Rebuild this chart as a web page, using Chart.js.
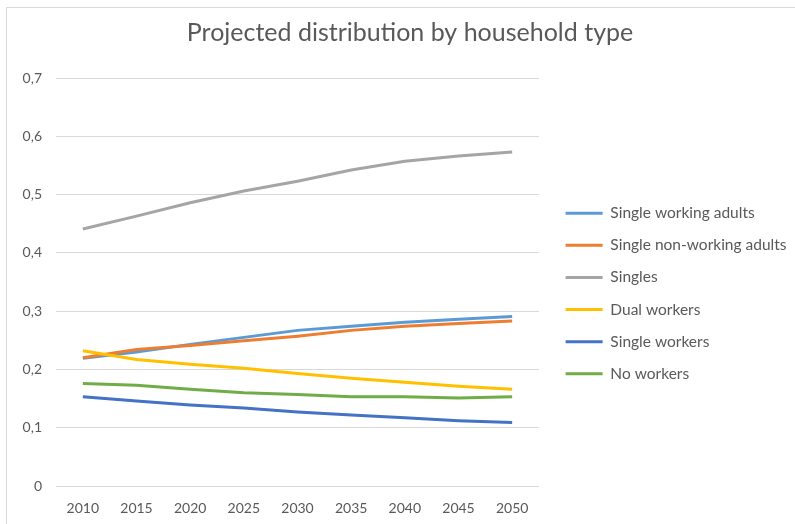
<!DOCTYPE html>
<html>
<head>
<meta charset="utf-8">
<script src="https://cdn.jsdelivr.net/npm/chart.js@4/dist/chart.umd.min.js"></script>
<style>
  html, body { margin: 0; padding: 0; background: #fff; }
  #wrap { position: absolute; left: 0; top: 0; width: 795px; height: 524px; }
</style>
</head>
<body>
<div id="wrap"><canvas id="chart"></canvas></div>
<script>
// data
const years = ["2010", "2015", "2020", "2025", "2030", "2035", "2040", "2045", "2050"];
const singleWorkingAdults = [0.219, 0.230, 0.243, 0.255, 0.267, 0.274, 0.281, 0.286, 0.291];
const singleNonWorkingAdults = [0.220, 0.234, 0.241, 0.249, 0.257, 0.267, 0.274, 0.279, 0.283];
const singles = [0.441, 0.463, 0.486, 0.506, 0.523, 0.542, 0.557, 0.566, 0.573];
const dualWorkers = [0.232, 0.217, 0.209, 0.202, 0.193, 0.185, 0.178, 0.171, 0.166];
const singleWorkers = [0.153, 0.146, 0.139, 0.134, 0.127, 0.122, 0.117, 0.112, 0.109];
const noWorkers = [0.176, 0.173, 0.166, 0.160, 0.157, 0.153, 0.153, 0.151, 0.153];
const yTicks = ["0", "0,1", "0,2", "0,3", "0,4", "0,5", "0,6", "0,7"];

const txt = "#595959";
const gridCol = "#d9d9d9";
const font = "Lato";

function serie(label, data, color, i) {
  return {
    label: label,
    data: data,
    borderColor: color,
    backgroundColor: color,
    borderWidth: 3,
    pointRadius: 0,
    tension: 0,
    order: 10 - i
  };
}

// thin frame of the chart area like excel
const frame = {
  id: "frame",
  beforeDraw(chart) {
    const c = chart.ctx;
    c.save();
    c.strokeStyle = gridCol;
    c.lineWidth = 1;
    c.strokeRect(6.5, 7.5, 2000, 2000);
    c.restore();
  }
};

// the legend gets only a narrow share by default, give it a fixed width
const legendWidth = {
  id: "legendWidth",
  beforeLayout(chart) {
    const lg = chart.legend;
    if (!lg || lg._wide) return;
    const fit = lg.fit;
    lg.fit = function () {
      fit.call(this);
      this.width = 255;
    };
    lg._wide = true;
  }
};

new Chart(document.getElementById("chart"), {
  type: "line",
  data: {
    labels: years,
    datasets: [
      serie("Single working adults", singleWorkingAdults, "#5B9BD5", 0),
      serie("Single non-working adults", singleNonWorkingAdults, "#ED7D31", 1),
      serie("Singles", singles, "#A5A5A5", 2),
      serie("Dual workers", dualWorkers, "#FFC000", 3),
      serie("Single workers", singleWorkers, "#4472C4", 4),
      serie("No workers", noWorkers, "#70AD47", 5),
    ]
  },
  plugins: [frame, legendWidth],
  options: {
    responsive: true,
    maintainAspectRatio: false,
    animation: false,
    layout: { padding: { left: 16, right: -9, top: 0, bottom: 8 } },
    plugins: {
      title: {
        display: true,
        text: "Projected distribution by household type",
        color: txt,
        font: { family: font, size: 25, weight: "normal" },
        padding: { top: 18, bottom: 30 }
      },
      legend: {
        position: "right",
        fullSize: false,
        title: { display: true, text: "", padding: { top: 6, bottom: 5 }, font: { size: 10 } },
        labels: {
          color: txt,
          font: { family: font, size: 15.5 },
          boxWidth: 37,
          boxHeight: 3,
          padding: 16.6,
          sort: (a, b) => a.datasetIndex - b.datasetIndex,
          generateLabels(chart) {
            return Chart.defaults.plugins.legend.labels.generateLabels(chart)
              .map(l => Object.assign(l, { lineWidth: 0 }));
          }
        }
      },
      tooltip: { enabled: false }
    },
    scales: {
      x: {
        offset: true,
        grid: { display: false, drawTicks: false },
        border: { display: false },
        ticks: { color: txt, font: { family: font, size: 14 }, padding: 14 },
        afterFit(scale) { scale.height = 30; }
      },
      y: {
        min: 0,
        max: 0.7,
        grid: { color: gridCol, drawTicks: false },
        border: { display: false },
        ticks: {
          stepSize: 0.1,
          color: txt,
          font: { family: font, size: 14 },
          padding: 14,
          callback: (v, i) => yTicks[i]
        },
        afterFit(scale) { scale.width = 40; }
      },
      gap: {
        position: "right",
        display: true,
        grid: { display: false },
        border: { display: false },
        ticks: { display: false },
        afterFit(scale) { scale.width = 10; }
      }
    }
  }
});
</script>
</body>
</html>
